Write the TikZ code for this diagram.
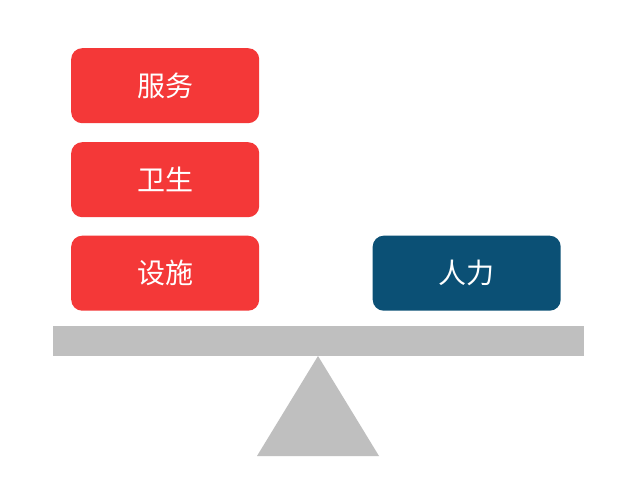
\documentclass[tikz,border=0pt]{standalone}
\usepackage{fontspec}
\newfontfamily\cjk{Noto Sans CJK SC}
\definecolor{boxred}{HTML}{F43838}
\definecolor{boxblue}{HTML}{0B5075}
\definecolor{beam}{HTML}{BFBFBF}
\begin{document}
\begin{tikzpicture}[x=1pt,y=-1pt,
  card/.style={rounded corners=11pt, minimum width=188pt, minimum height=75pt, inner sep=0pt, text=white, font=\cjk\fontsize{28}{30}\selectfont, anchor=north west}]
\useasboundingbox[fill=white] (0,0) rectangle (640,484);
\node[card, fill=boxred] (fuwu) at (71,48) {服务};
\node[card, fill=boxred] (weisheng) at (71,142) {卫生};
\node[card, fill=boxred] (sheshi) at (71,235.5) {设施};
\node[card, fill=boxblue] (renli) at (372.5,235.5) {人力};
\fill[beam] (53,326) rectangle (584,356);
\fill[beam] (318,356) -- (379,456) -- (257,456) -- cycle;
\end{tikzpicture}
\end{document}
